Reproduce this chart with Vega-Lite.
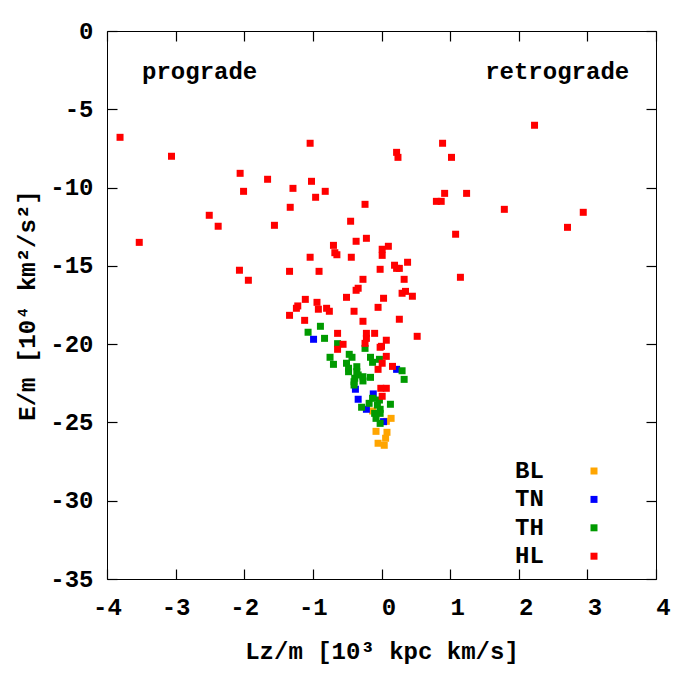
{
 "$schema": "https://vega.github.io/schema/vega-lite/v6.json",
 "autosize": "none",
 "padding": {"left": 107, "top": 31, "right": 44, "bottom": 121},
 "width": 549,
 "height": 548,
 "config": {
  "view": {"stroke": "black", "strokeWidth": 1},
  "font": "Liberation Mono",
  "axis": {"grid": false, "domain": false, "tickColor": "black", "tickSize": 10, "tickWidth": 1.2, "offset": -10, "labelFlush": false,
   "labelFont": "Liberation Mono", "labelFontSize": 24, "labelFontWeight": "bold", "labelColor": "black",
   "titleFont": "Liberation Mono", "titleFontSize": 24, "titleFontWeight": "bold", "titleColor": "black"}
 },
 "datasets": {
  "pts": [
   {"Lz": -0.13, "E": -24.27, "pop": "BL"}, {"Lz": 0.14, "E": -24.74, "pop": "BL"}, {"Lz": 0.07, "E": -24.93, "pop": "BL"}, {"Lz": -0.08, "E": -25.57, "pop": "BL"},
   {"Lz": 0.08, "E": -25.63, "pop": "BL"}, {"Lz": 0.06, "E": -26.01, "pop": "BL"}, {"Lz": -0.05, "E": -26.33, "pop": "BL"}, {"Lz": 0.04, "E": -26.46, "pop": "BL"},
   {"Lz": -0.99, "E": -19.69, "pop": "TN"}, {"Lz": 0.22, "E": -21.61, "pop": "TN"}, {"Lz": -0.38, "E": -22.88, "pop": "TN"}, {"Lz": -0.12, "E": -23.18, "pop": "TN"},
   {"Lz": -0.34, "E": -23.52, "pop": "TN"}, {"Lz": -0.22, "E": -24.16, "pop": "TN"}, {"Lz": 0.03, "E": -24.95, "pop": "TN"},
   {"Lz": -0.89, "E": -18.86, "pop": "TH"}, {"Lz": -1.07, "E": -19.24, "pop": "TH"}, {"Lz": -0.83, "E": -19.63, "pop": "TH"}, {"Lz": -0.64, "E": -19.97, "pop": "TH"},
   {"Lz": -0.75, "E": -20.84, "pop": "TH"}, {"Lz": -0.70, "E": -21.29, "pop": "TH"}, {"Lz": -0.47, "E": -20.65, "pop": "TH"}, {"Lz": -0.43, "E": -20.84, "pop": "TH"},
   {"Lz": -0.51, "E": -21.22, "pop": "TH"}, {"Lz": -0.48, "E": -21.54, "pop": "TH"}, {"Lz": -0.48, "E": -21.76, "pop": "TH"}, {"Lz": -0.36, "E": -21.44, "pop": "TH"},
   {"Lz": -0.36, "E": -21.76, "pop": "TH"}, {"Lz": -0.39, "E": -22.18, "pop": "TH"}, {"Lz": -0.40, "E": -22.40, "pop": "TH"}, {"Lz": -0.40, "E": -22.61, "pop": "TH"},
   {"Lz": -0.27, "E": -22.35, "pop": "TH"}, {"Lz": -0.24, "E": -20.27, "pop": "TH"}, {"Lz": -0.16, "E": -20.84, "pop": "TH"}, {"Lz": -0.13, "E": -21.16, "pop": "TH"},
   {"Lz": -0.03, "E": -20.97, "pop": "TH"}, {"Lz": -0.34, "E": -21.97, "pop": "TH"}, {"Lz": -0.27, "E": -22.08, "pop": "TH"}, {"Lz": -0.16, "E": -22.12, "pop": "TH"},
   {"Lz": 0.30, "E": -21.70, "pop": "TH"}, {"Lz": 0.33, "E": -22.25, "pop": "TH"}, {"Lz": -0.13, "E": -23.46, "pop": "TH"}, {"Lz": -0.18, "E": -23.78, "pop": "TH"},
   {"Lz": -0.03, "E": -23.57, "pop": "TH"}, {"Lz": -0.06, "E": -23.89, "pop": "TH"}, {"Lz": -0.29, "E": -24.03, "pop": "TH"}, {"Lz": 0.13, "E": -23.84, "pop": "TH"},
   {"Lz": -0.02, "E": -24.16, "pop": "TH"}, {"Lz": -0.10, "E": -24.42, "pop": "TH"}, {"Lz": -0.02, "E": -24.42, "pop": "TH"}, {"Lz": -0.08, "E": -24.74, "pop": "TH"},
   {"Lz": -0.02, "E": -25.06, "pop": "TH"},
   {"Lz": -3.81, "E": -6.79, "pop": "HL"}, {"Lz": -3.06, "E": -8.00, "pop": "HL"}, {"Lz": -1.04, "E": -7.17, "pop": "HL"}, {"Lz": 0.22, "E": -7.75, "pop": "HL"},
   {"Lz": 0.24, "E": -8.07, "pop": "HL"}, {"Lz": -2.06, "E": -9.09, "pop": "HL"}, {"Lz": -1.66, "E": -9.47, "pop": "HL"}, {"Lz": -1.02, "E": -9.60, "pop": "HL"},
   {"Lz": -2.01, "E": -10.24, "pop": "HL"}, {"Lz": -1.29, "E": -10.05, "pop": "HL"}, {"Lz": -0.82, "E": -10.24, "pop": "HL"}, {"Lz": -0.96, "E": -10.62, "pop": "HL"},
   {"Lz": -1.33, "E": -11.26, "pop": "HL"}, {"Lz": -0.24, "E": -11.07, "pop": "HL"}, {"Lz": -2.51, "E": -11.77, "pop": "HL"}, {"Lz": -2.38, "E": -12.47, "pop": "HL"},
   {"Lz": -1.56, "E": -12.41, "pop": "HL"}, {"Lz": -0.45, "E": -12.15, "pop": "HL"}, {"Lz": -3.53, "E": -13.50, "pop": "HL"}, {"Lz": -0.70, "E": -13.69, "pop": "HL"},
   {"Lz": -0.37, "E": -13.43, "pop": "HL"}, {"Lz": -0.22, "E": -13.24, "pop": "HL"}, {"Lz": 0.10, "E": -13.75, "pop": "HL"}, {"Lz": 0.01, "E": -13.94, "pop": "HL"},
   {"Lz": 0.01, "E": -14.33, "pop": "HL"}, {"Lz": -0.68, "E": -14.16, "pop": "HL"}, {"Lz": -0.65, "E": -14.29, "pop": "HL"}, {"Lz": -0.44, "E": -14.45, "pop": "HL"},
   {"Lz": -1.04, "E": -14.45, "pop": "HL"}, {"Lz": 0.19, "E": -14.96, "pop": "HL"}, {"Lz": 0.22, "E": -15.16, "pop": "HL"}, {"Lz": 0.26, "E": -15.16, "pop": "HL"},
   {"Lz": -0.02, "E": -15.22, "pop": "HL"}, {"Lz": -2.07, "E": -15.28, "pop": "HL"}, {"Lz": -1.34, "E": -15.35, "pop": "HL"}, {"Lz": -0.91, "E": -15.35, "pop": "HL"},
   {"Lz": -1.94, "E": -15.92, "pop": "HL"}, {"Lz": -0.27, "E": -15.86, "pop": "HL"}, {"Lz": -0.34, "E": -16.43, "pop": "HL"}, {"Lz": -0.37, "E": -16.56, "pop": "HL"},
   {"Lz": -0.51, "E": -17.01, "pop": "HL"}, {"Lz": 0.03, "E": -17.07, "pop": "HL"}, {"Lz": -1.11, "E": -17.14, "pop": "HL"}, {"Lz": -0.94, "E": -17.33, "pop": "HL"},
   {"Lz": -1.22, "E": -17.56, "pop": "HL"}, {"Lz": -1.24, "E": -17.71, "pop": "HL"}, {"Lz": -0.92, "E": -17.77, "pop": "HL"}, {"Lz": -0.80, "E": -17.71, "pop": "HL"},
   {"Lz": -0.76, "E": -17.90, "pop": "HL"}, {"Lz": -0.40, "E": -17.90, "pop": "HL"}, {"Lz": -0.05, "E": -17.65, "pop": "HL"}, {"Lz": -1.34, "E": -18.16, "pop": "HL"},
   {"Lz": -1.12, "E": -18.48, "pop": "HL"}, {"Lz": -0.27, "E": -18.54, "pop": "HL"}, {"Lz": 0.26, "E": -18.41, "pop": "HL"}, {"Lz": -0.64, "E": -19.31, "pop": "HL"},
   {"Lz": -0.22, "E": -19.31, "pop": "HL"}, {"Lz": -0.10, "E": -19.31, "pop": "HL"}, {"Lz": 0.52, "E": -19.50, "pop": "HL"}, {"Lz": 0.07, "E": -19.75, "pop": "HL"},
   {"Lz": -0.24, "E": -19.95, "pop": "HL"}, {"Lz": -0.22, "E": -19.63, "pop": "HL"}, {"Lz": -0.56, "E": -20.01, "pop": "HL"}, {"Lz": -0.64, "E": -20.33, "pop": "HL"},
   {"Lz": -0.02, "E": -20.20, "pop": "HL"}, {"Lz": 0.00, "E": -20.14, "pop": "HL"}, {"Lz": 0.07, "E": -20.78, "pop": "HL"}, {"Lz": 0.01, "E": -21.22, "pop": "HL"},
   {"Lz": -0.05, "E": -21.61, "pop": "HL"}, {"Lz": 0.16, "E": -21.42, "pop": "HL"}, {"Lz": -0.01, "E": -22.82, "pop": "HL"}, {"Lz": 0.07, "E": -22.82, "pop": "HL"},
   {"Lz": 0.01, "E": -23.33, "pop": "HL"}, {"Lz": 0.80, "E": -10.88, "pop": "HL"}, {"Lz": 0.87, "E": -10.88, "pop": "HL"}, {"Lz": 2.23, "E": -6.02, "pop": "HL"},
   {"Lz": 0.89, "E": -7.17, "pop": "HL"}, {"Lz": 1.02, "E": -8.07, "pop": "HL"}, {"Lz": 0.92, "E": -10.37, "pop": "HL"}, {"Lz": 1.24, "E": -10.37, "pop": "HL"},
   {"Lz": 1.79, "E": -11.39, "pop": "HL"}, {"Lz": 2.94, "E": -11.58, "pop": "HL"}, {"Lz": 2.71, "E": -12.54, "pop": "HL"}, {"Lz": 1.08, "E": -12.98, "pop": "HL"},
   {"Lz": 0.38, "E": -14.77, "pop": "HL"}, {"Lz": 0.33, "E": -15.86, "pop": "HL"}, {"Lz": 1.15, "E": -15.73, "pop": "HL"}, {"Lz": 0.30, "E": -16.75, "pop": "HL"},
   {"Lz": 0.35, "E": -16.63, "pop": "HL"}, {"Lz": 0.45, "E": -16.94, "pop": "HL"}
  ]
 },
 "layer": [
  {
   "data": {"name": "pts"},
   "mark": {"type": "point", "shape": "square", "filled": true, "size": 49, "opacity": 1, "strokeWidth": 0},
   "encoding": {
    "x": {"field": "Lz", "type": "quantitative",
     "scale": {"domain": [-4, 4], "nice": false, "zero": false},
     "axis": {"orient": "bottom", "values": [-4, -3, -2, -1, 0, 1, 2, 3, 4], "labelPadding": 16,
      "labelExpr": "'' + datum.value",
      "labelOffset": {"condition": {"test": "datum.value >= 0", "value": 7}, "value": 0},
      "title": "Lz/m [10³ kpc km/s]", "titleY": 82, "titleBaseline": "middle"}},
    "y": {"field": "E", "type": "quantitative",
     "scale": {"domain": [-35, 0], "nice": false, "zero": false},
     "axis": {"orient": "left", "values": [-35, -30, -25, -20, -15, -10, -5, 0], "labelPadding": 14,
      "labelExpr": "'' + datum.value",
      "title": "E/m [10⁴ km²/s²]", "titleX": -90, "titleBaseline": "middle"}},
    "color": {"field": "pop", "type": "nominal",
     "scale": {"domain": ["BL", "TN", "TH", "HL"], "range": ["#ffa500", "#0000ff", "#009a00", "#ff0000"]},
     "legend": {"orient": "none", "legendX": 475, "legendY": 428, "title": null,
      "symbolType": "square", "symbolSize": 49, "symbolStrokeWidth": 0,
      "labelFont": "Liberation Mono", "labelFontSize": 24, "labelFontWeight": "bold", "labelColor": "black",
      "labelOffset": -91, "rowPadding": 4.4}}
   }
  },
  {
   "data": {"values": [{}]},
   "mark": {"type": "text", "text": "prograde", "font": "Liberation Mono", "fontSize": 24, "fontWeight": "bold", "align": "center", "baseline": "middle", "color": "black"},
   "encoding": {
    "x": {"datum": -2.65, "type": "quantitative", "scale": {"domain": [-4, 4], "nice": false, "zero": false},
     "axis": {"orient": "top", "values": [-4, -3, -2, -1, 0, 1, 2, 3, 4], "labels": false, "title": null}},
    "y": {"datum": -2.62, "type": "quantitative", "scale": {"domain": [-35, 0], "nice": false, "zero": false},
     "axis": {"orient": "right", "values": [-35, -30, -25, -20, -15, -10, -5, 0], "labels": false, "title": null}}
   }
  },
  {
   "data": {"values": [{}]},
   "mark": {"type": "text", "text": "retrograde", "font": "Liberation Mono", "fontSize": 24, "fontWeight": "bold", "align": "center", "baseline": "middle", "color": "black"},
   "encoding": {
    "x": {"datum": 2.56, "type": "quantitative", "scale": {"domain": [-4, 4], "nice": false, "zero": false}, "axis": null},
    "y": {"datum": -2.62, "type": "quantitative", "scale": {"domain": [-35, 0], "nice": false, "zero": false}, "axis": null}
   }
  }
 ],
 "resolve": {"axis": {"x": "independent", "y": "independent"}}
}
